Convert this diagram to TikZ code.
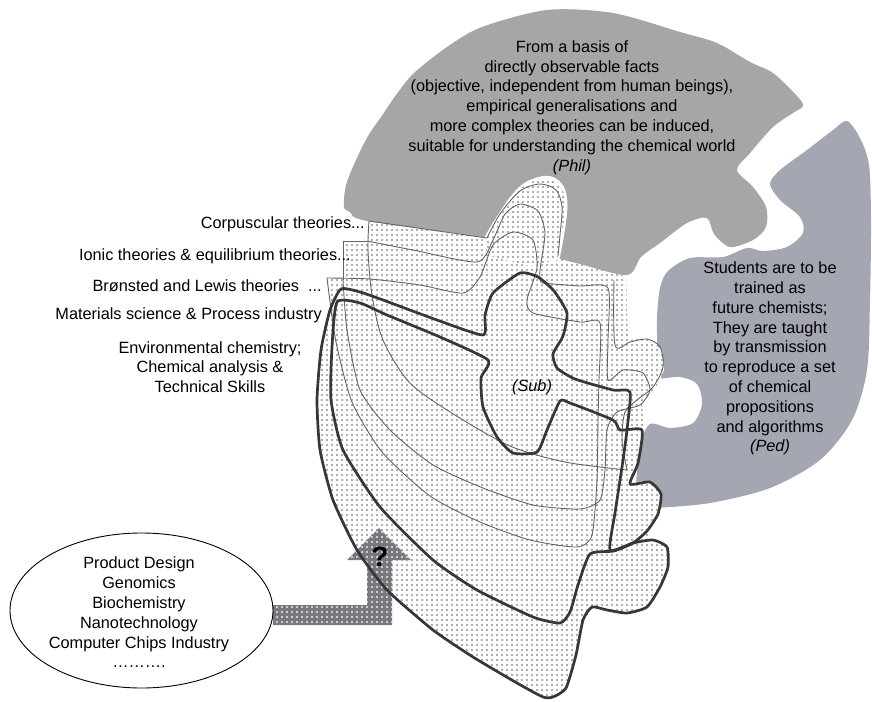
\documentclass[tikz,border=0pt]{standalone}
\usepackage{fontspec}
\setmainfont{Liberation Sans}
\usetikzlibrary{shapes.geometric,patterns.meta}
\definecolor{philgray}{RGB}{166,166,166}
\definecolor{pedgray}{RGB}{164,166,178}
\definecolor{dotgray}{RGB}{145,145,145}
\definecolor{thickc}{RGB}{55,55,55}
\definecolor{thinc}{RGB}{100,100,100}
\definecolor{arrowc}{RGB}{120,120,126}
\pgfdeclarepattern{name=hdots, type=uncolored,
  bottom left={\pgfpoint{0pt}{0pt}}, top right={\pgfpoint{4.5pt}{4.5pt}},
  tile size={\pgfpoint{4.5pt}{4.5pt}},
  code={\pgfpathcircle{\pgfpoint{2.25pt}{2.25pt}}{1.2pt}\pgfusepath{fill}}}
\tikzset{
  philfill/.style={fill=philgray},
  pedfill/.style={fill=pedgray},
  dotregion/.style={fill=white, postaction={pattern=hdots, pattern color=dotgray}},
  arrowfill/.style={fill=arrowc, postaction={pattern=hdots, pattern color=white!85!arrowc}},
  thinline/.style={draw=thinc, line width=0.9pt},
  thickline/.style={draw=thickc, line width=2.7pt, line join=round},
  txt/.style={font=\fontsize{16.3}{19.8}\selectfont, align=center, inner sep=0pt},
  lbl/.style={font=\fontsize{16.3}{19.8}\selectfont, inner sep=0pt, anchor=base east},
}
\begin{document}
\begin{tikzpicture}[x=1pt,y=-1pt]
\useasboundingbox (0,0) rectangle (872,701);
% Ped region
\path[pedfill] plot[smooth cycle, tension=0.5] coordinates {(847,121) (860,138) (869,165) (871,220) (870,300) (867,370) (852,420) (820,460) (770,488) (710,503) (655,508) (634,508) (636,483) (640,445) (650,424) (670,428) (693,423) (702,404) (697,384) (680,377) (654,377) (657,350) (657,317) (660,288) (668,271) (690,258) (723,257) (747,248) (763,251) (787,247) (803,233) (800,217) (780,200) (770,184) (780,170) (807,150) (833,130)};
% dotted substance region
\path[dotregion] plot coordinates {(369,219) (480,235) (560,256) (626,273) (628,340) (647,338) (662,350) (664,370) (655,390) (642,402) (644,430) (638,463) (630,482) (650,481) (661,494) (658,515) (647,532) (655,539) (668,547) (669,568) (660,588) (647,607) (627,614) (607,611) (592,608) (583,622) (575,660) (565,690) (553,698) (540,697) (517,684) (473,658) (433,631) (387,591) (357,551) (333,501) (319,450) (316,400) (320,350) (328,312) (328,278) (343,276) (343,241) (368,241)} -- cycle;
% Phil region
\path[philfill] plot[smooth cycle, tension=0.5] coordinates {(344,207) (346,185) (356,160) (368,136) (381,117) (396,95) (414,73) (447,47) (482,27) (547,10) (613,13) (680,32) (717,43) (750,62) (773,73) (797,96) (803,106) (793,113) (773,127) (750,153) (737,170) (753,187) (766,207) (766,227) (753,240) (730,247) (714,234) (707,218) (687,223) (660,243) (641,257) (627,275) (580,264) (557,258) (487,238) (367,221) (350,212)};
% head poking into Phil
\draw[white, line width=4.5pt] plot[smooth, tension=0.6] coordinates {(484,244) (490,232) (500,216) (513,197) (527,184) (547,178) (560,185) (565,200) (564,220) (560,245) (557,260)};
\path[dotregion] plot[smooth, tension=0.6] coordinates {(484,244) (490,232) (500,216) (513,197) (527,184) (547,178) (560,185) (565,200) (564,220) (560,245) (557,260)} -- (530,266) -- (490,256) -- cycle;
% block arrow
\path[arrowfill] (273,605) -- (367,605) -- (367,560) -- (347,560) -- (379,528) -- (411,560) -- (392,560) -- (392,625) -- (273,625) -- cycle;
% thin layers
\draw[thinline] (369,221) -- (487,238);
\draw[thinline] plot[smooth, tension=0.5] coordinates {(487,238) (500,214) (520,191) (540,184) (556,190) (562,207) (560,235) (558,256)};
\draw[thinline] plot[smooth, tension=0.5] coordinates {(369,221) (368,250) (372,295) (383,340) (410,383) (455,415) (510,446) (560,461) (600,467) (627,470)};
\draw[thinline] plot[smooth, tension=0.5] coordinates {(614,280) (615,345) (630,342) (647,339) (660,347) (663,367) (653,387) (637,400) (625,412) (622,440) (627,470)};
\draw[thinline] (343,280) -- (343,241) -- (367,241);
\draw[thinline] plot[smooth, tension=0.4] coordinates {(367,241) (413,250) (477,262) (493,240) (505,214) (520,204) (538,211) (545,233) (540,270) (541,282) (553,284) (580,286) (608,288) (608,340) (608,380) (623,370) (643,373) (650,390) (640,405) (617,412) (607,430) (605,470) (600,500) (580,509) (533,505) (483,488) (433,465) (390,430) (360,390) (347,330) (343,280)};
\draw[thinline] plot[smooth, tension=0.4] coordinates {(327,278) (370,279) (420,285) (463,293) (480,277) (493,245) (513,232) (533,240) (537,268) (527,300) (533,313) (580,322) (600,323) (599,380) (598,420) (597,480) (592,535) (577,547) (530,540) (480,522) (430,496) (382,452) (352,402) (336,342) (327,278)};
% thick layers
\draw[thickline] plot[smooth cycle, tension=0.35] coordinates {(341,289) (360,292) (383,300) (437,320) (483,335) (485,315) (493,293) (520,273) (538,277) (554,291) (567,313) (563,336) (553,354) (557,368) (575,379) (613,390) (630,392) (627,430) (622,467) (615,513) (610,550) (633,543) (653,540) (667,547) (668,567) (660,587) (647,607) (627,613) (607,610) (592,607) (583,620) (576,655) (566,688) (553,697) (543,697) (517,683) (473,657) (433,630) (387,590) (357,550) (333,500) (320,450) (317,400) (321,350) (330,310)};
\draw[thickline] plot[smooth cycle, tension=0.35] coordinates {(337,302) (360,303) (387,315) (440,337) (488,360) (481,378) (483,407) (497,437) (513,453) (537,452) (547,430) (560,401) (570,403) (613,420) (620,430) (642,430) (638,463) (630,484) (650,482) (661,494) (658,514) (647,531) (633,543) (614,551) (590,554) (578,585) (570,612) (560,623) (533,617) (477,590) (433,560) (380,507) (343,450) (331,400) (332,347)};
% applications ellipse
\node[draw=black, line width=0.9pt, fill=white, ellipse, minimum width=263pt, minimum height=155pt, inner sep=0pt] (apps) at (141.5,610.5) {};
\node[txt] (appstext) at (139,612.5) {Product Design\\Genomics\\Biochemistry\\Nanotechnology\\Computer Chips Industry\\……….};
% texts
\node[txt] (phil) at (572,107.5) {From a basis of\\directly observable facts\\(objective, independent from human beings),\\empirical generalisations and\\more complex theories can be induced,\\suitable for understanding the chemical world\\\textit{(Phil)}};
\node[txt] (ped) at (770,358.5) {Students are to be\\trained as\\future chemists;\\They are taught\\by transmission\\to reproduce a set\\of chemical\\propositions\\and algorithms\\\textit{(Ped)}};
\node[txt] (sub) at (532,387) {\textit{(Sub)}};
\node[font=\bfseries\fontsize{28}{30}\selectfont, inner sep=0pt] (q) at (380,557) {?};
\node[lbl] (corp) at (365,228.5) {Corpuscular theories...};
\node[lbl] (ionic) at (351,260.5) {Ionic theories \& equilibrium theories...};
\node[lbl] (bron) at (322,291.5) {Brønsted and Lewis theories \ ...};
\node[lbl] (mat) at (322,319.5) {Materials science \& Process industry};
\node[txt] (env) at (210,367) {Environmental chemistry;\\Chemical analysis \&\\Technical Skills};
\end{tikzpicture}
\end{document}
